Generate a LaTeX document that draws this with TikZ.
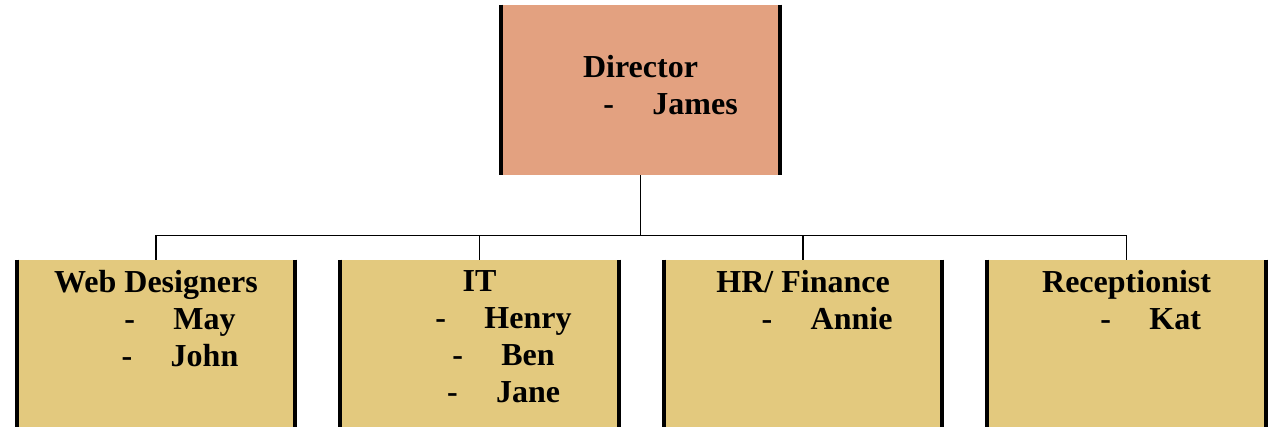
\documentclass[tikz,border=0pt]{standalone}
\usepackage{fontspec}
\setmainfont{Liberation Serif}
\usetikzlibrary{positioning}
\definecolor{dirfill}{RGB}{227,161,128}
\definecolor{teamfill}{RGB}{227,201,126}
\newcommand{\member}[2][1.5em]{\hspace*{#1}-\hspace{1.2em}#2}

\begin{document}
\begin{tikzpicture}[
            x=0.75pt, y=-0.75pt,
            node distance=33.75pt,
            dirbox/.style={rectangle,fill=dirfill,inner sep=0pt,minimum width=208.5pt,minimum height=127.5pt},
            teambox/.style={rectangle,fill=teamfill,inner sep=0pt,minimum width=208.5pt,minimum height=150pt},
            boxtext/.style={align=center,inner sep=0pt,anchor=north,font=\fontsize{24}{27.75}\selectfont\bfseries},
            bar/.style={line width=3pt,black},
            link/.style={line width=0.9pt,black}
          ]
          \useasboundingbox (0,0) rectangle (1270,426);
          \clip (0,0) rectangle (1270,426);
          % boxes
          \node[dirbox] (director) at (640.5,90) {};
          \node[teambox] (web) at (156,360) {};
          \node[teambox, right=of web] (it) {};
          \node[teambox, right=of it] (hr) {};
          \node[teambox, right=of hr] (recep) {};
          \foreach \b in {director,web,it,hr,recep} {
            \draw[bar] (\b.north west) -- (\b.south west);
            \draw[bar] (\b.north east) -- (\b.south east);
          }
          % texts
          \node[boxtext] (directortext) at ([yshift=-37.4pt]director.north) {Director\\ \member[1.88em]{James}};
          \node[boxtext] (webtext) at ([yshift=-7.8pt]web.north) {Web Designers\\ \member{May}\\ \member{John}};
          \node[boxtext] (ittext) at ([yshift=-7.8pt]it.north) {IT\\ \member{Henry}\\ \member{Ben}\\ \member{Jane}};
          \node[boxtext] (hrtext) at ([yshift=-7.8pt]hr.north) {HR/ Finance\\ \member{Annie}};
          \node[boxtext] (receptext) at ([yshift=-7.8pt]recep.north) {Receptionist\\ \member{Kat}};
          % connectors
          \foreach \t in {web,it,hr,recep}
            \draw[link] (director.south) -- ++(0,60) -| (\t.north);
        \end{tikzpicture}
\end{document}
